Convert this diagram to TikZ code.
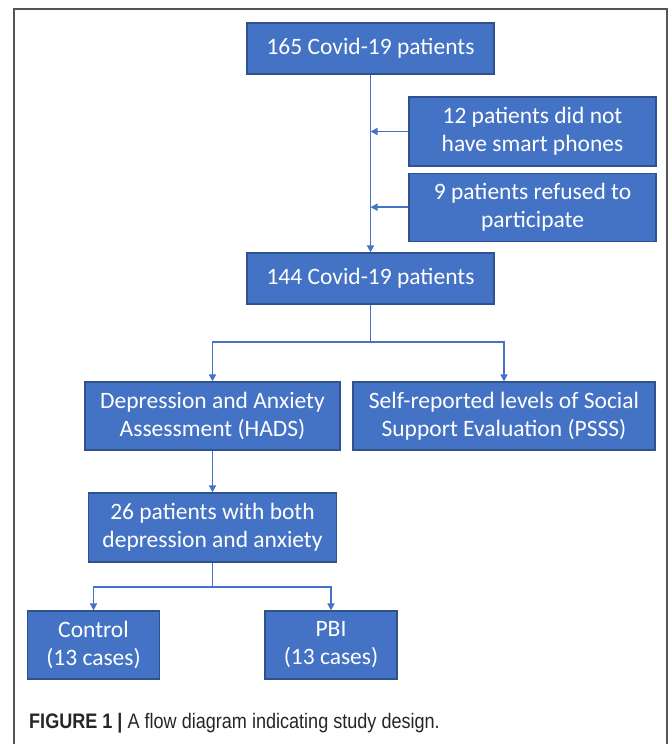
\documentclass[tikz,border=0pt]{standalone}
\usepackage{fontspec}
\setmainfont{Carlito}
\newfontfamily\capfont[FakeStretch=0.86]{Liberation Sans}
\usetikzlibrary{positioning}
\usetikzlibrary{arrows.meta}
\definecolor{bBlue}{HTML}{4472C4}
\definecolor{bEdge}{HTML}{2F528F}
\definecolor{fGray}{HTML}{555555}
\definecolor{capText}{HTML}{262626}

\tikzset{
  stage/.style={fill=bBlue, draw=bEdge, line width=1.2pt, text=white, align=center, inner sep=0pt, font=\fontsize{23.5}{28}\selectfont},
  flow/.style={draw=bBlue, line width=1.6pt, -{Triangle[length=7pt, width=7pt]}},
}

\begin{document}
\begin{tikzpicture}[x=1pt, y=-1pt]
  \useasboundingbox (0,0) rectangle (669,744);
  \draw[fGray, line width=1.5pt] (14,760) -- (14,9) -- (667,9) -- (667,760);

  \node[stage, minimum width=247pt, minimum height=51pt] (pat165) at (370.5,48.5) {165 Covid-19 patients};
  \node[stage, minimum width=247pt, minimum height=69pt] (nophone) at (532.5,131.5) {12 patients did not\\have smart phones};
  \node[stage, minimum width=247pt, minimum height=68pt, below=6pt of nophone] (refused) {9 patients refused to\\participate};
  \node[stage, minimum width=247pt, minimum height=51pt] (pat144) at (370.5,278.5) {144 Covid-19 patients};

  \node[stage, minimum width=255pt, minimum height=68pt] (hads) at (212.5,416) {Depression and Anxiety\\Assessment (HADS)};
  \node[stage, minimum width=302pt, minimum height=68pt] (psss) at (504,416) {Self-reported levels of Social\\Support Evaluation (PSSS)};
  \node[stage, minimum width=248pt, minimum height=69pt] (both) at (212.5,527.5) {26 patients with both\\depression and anxiety};

  \node[stage, minimum width=132pt, minimum height=68pt] (control) at (93.5,645) {Control\\(13 cases)};
  \node[stage, minimum width=132pt, minimum height=68pt] (pbi) at (331,645) {PBI\\(13 cases)};

  % enrolment
  \draw[flow] (pat165.south) -- (pat144.north);
  \draw[flow] (nophone.west) -- (nophone.west -| pat165.south);
  \draw[flow] (refused.west) -- (refused.west -| pat165.south);

  % assessments
  \coordinate (split1) at (370.5,342);
  \draw[draw=bBlue, line width=1.6pt] (pat144.south) -- (split1);
  \draw[flow] (split1) -| (hads.north);
  \draw[flow] (split1) -| (psss.north);
  \draw[flow] (hads.south) -- (both.north);

  % groups
  \coordinate (split2) at (212.5,587);
  \draw[draw=bBlue, line width=1.6pt] (both.south) -- (split2);
  \draw[flow] (split2) -| (control.north);
  \draw[flow] (split2) -| (pbi.north);

  \node[anchor=base west, inner sep=0pt, text=capText, font=\capfont\fontsize{21}{25}\selectfont] (caption) at (29,728) {\textbf{FIGURE 1 |} A flow diagram indicating study design.};
\end{tikzpicture}
\end{document}
